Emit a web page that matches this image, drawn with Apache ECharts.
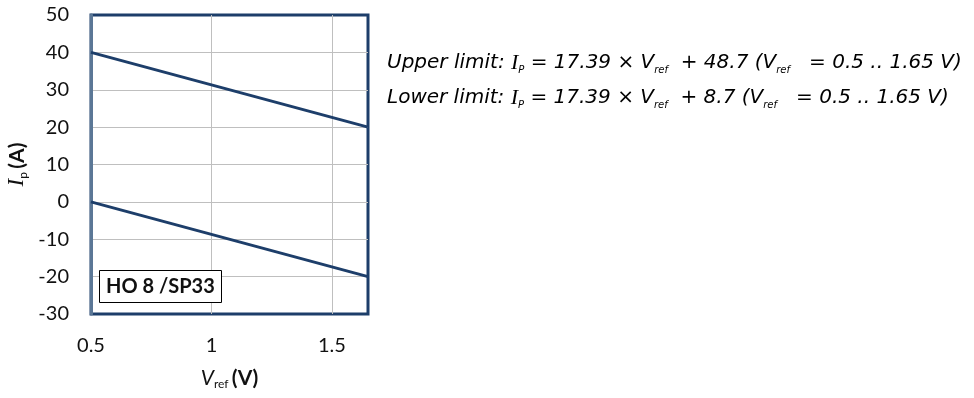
<!DOCTYPE html>
<html>
<head>
<meta charset="utf-8">
<script src="https://cdn.jsdelivr.net/npm/echarts@6/dist/echarts.min.js"></script>
<style>
  html, body { margin: 0; padding: 0; background: #fff; }
  #chart { width: 974px; height: 398px; }
</style>
</head>
<body>
<div id="chart"></div>
<script>
// V_ref endpoints and the two limit lines
const vref = [0.5, 1.65]
const upperLimit = [40, 20]
const lowerLimit = [0, -20]
const xTicks = [0.5, 1, 1.5]
const yTicks = [-30, -20, -10, 0, 10, 20, 30, 40, 50]

const NAVY = '#1d3e6a'
const TICK_FONT = 'Lato'

const dom = echarts.init(document.getElementById('chart'))

const eqRich = {
  t: { fontFamily: 'DejaVu Sans', fontStyle: 'italic', fontSize: 20, color: '#222', lineHeight: 24 },
  i: { fontFamily: 'Liberation Serif', fontStyle: 'italic', fontSize: 22, color: '#222', lineHeight: 24 },
  s: { fontFamily: 'DejaVu Sans', fontStyle: 'italic', fontSize: 10, color: '#222', lineHeight: 2, verticalAlign: 'bottom' }
}

const option = {
  animation: false,
  grid: {
    left: 91, right: 606, top: 15, bottom: 84,
    containLabel: false,
    outerBoundsMode: 'none',
    show: true,
    borderColor: NAVY,
    borderWidth: 3,
    backgroundColor: '#fff'
  },
  title: {
    text: 'HO 8 /SP33',
    left: 99, top: 270,
    padding: [7, 7, 6, 7],
    borderWidth: 1,
    borderColor: '#000',
    backgroundColor: '#fff',
    textStyle: { fontFamily: TICK_FONT, fontWeight: 'bold', fontSize: 20, color: '#111' },
    z: 10
  },
  xAxis: {
    type: 'value',
    min: 0.5, max: 1.65, interval: 0.5,
    axisLine: { show: false },
    axisTick: { show: false },
    axisLabel: {
      margin: 22,
      fontFamily: TICK_FONT, fontSize: 20, color: '#111',
      formatter: v => xTicks.indexOf(v) >= 0 ? String(v) : ''
    },
    splitLine: { show: true, showMinLine: false, showMaxLine: false, lineStyle: { color: '#bfbfbf', width: 1 } },
    name: '{v|V}{s|ref} {b|(V)}',
    nameLocation: 'middle',
    nameGap: 52,
    nameTextStyle: {
      rich: {
        v: { fontFamily: TICK_FONT, fontStyle: 'italic', fontSize: 21, color: '#111', lineHeight: 24 },
        s: { fontFamily: TICK_FONT, fontSize: 12, color: '#111', lineHeight: 4, verticalAlign: 'bottom' },
        b: { fontFamily: TICK_FONT, fontWeight: 'bold', fontSize: 21, color: '#111', lineHeight: 24 }
      }
    }
  },
  yAxis: {
    type: 'value',
    min: -30, max: 50, interval: 10,
    axisLine: { show: true, onZero: false, lineStyle: { color: '#5b7796', width: 3 } },
    axisTick: { show: false },
    axisLabel: {
      margin: 22,
      fontFamily: TICK_FONT, fontSize: 20, color: '#111',
      formatter: v => yTicks.indexOf(v) >= 0 ? String(v) : ''
    },
    splitLine: { show: true, showMinLine: false, showMaxLine: false, lineStyle: { color: '#bfbfbf', width: 1 } },
    name: '{i|I}{s|p} {b|(A)}',
    nameLocation: 'middle',
    nameRotate: 90,
    nameGap: 62,
    nameTextStyle: {
      rich: {
        i: { fontFamily: 'Liberation Serif', fontStyle: 'italic', fontSize: 23, color: '#111', lineHeight: 24 },
        s: { fontFamily: TICK_FONT, fontSize: 12, color: '#111', lineHeight: 4, verticalAlign: 'bottom' },
        b: { fontFamily: TICK_FONT, fontWeight: 'bold', fontSize: 21, color: '#111', lineHeight: 24 }
      }
    }
  },
  series: [
    {
      name: 'Upper limit',
      type: 'line',
      data: vref.map((v, i) => [v, upperLimit[i]]),
      symbol: 'none',
      lineStyle: { color: NAVY, width: 3 },
      z: 5
    },
    {
      name: 'Lower limit',
      type: 'line',
      data: vref.map((v, i) => [v, lowerLimit[i]]),
      symbol: 'none',
      lineStyle: { color: NAVY, width: 3 },
      z: 5
    }
  ],
  graphic: [
    {
      type: 'text', left: 387, top: 52,
      style: {
        text: '{t|Upper limit: }{i|I}{s|P}{t| = 17.39 × V}{s|ref}{t|  + 48.7 (V}{s|ref}{t|   = 0.5 .. 1.65 V)}',
        rich: eqRich
      }
    },
    {
      type: 'text', left: 387, top: 87,
      style: {
        text: '{t|Lower limit: }{i|I}{s|P}{t| = 17.39 × V}{s|ref}{t|  + 8.7 (V}{s|ref}{t|   = 0.5 .. 1.65 V)}',
        rich: eqRich
      }
    }
  ]
}

dom.setOption(option)
window.addEventListener('resize', dom.resize)
</script>
</body>
</html>
